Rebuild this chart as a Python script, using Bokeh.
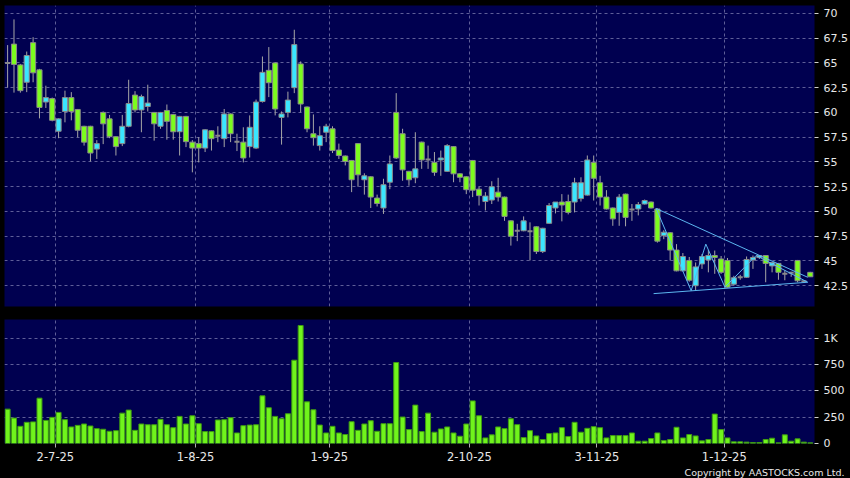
import numpy as np
import pandas as pd
from bokeh.plotting import figure
from bokeh.layouts import column
from bokeh.models import ColumnDataSource, FixedTicker, Title, Range1d, Grid
from bokeh.embed import file_html
from bokeh.resources import INLINE

# ---------------- data ----------------
holidays = ["2025-07-01", "2025-10-01", "2025-10-07", "2025-10-29"]
dates = [d for d in pd.bdate_range("2025-06-20", "2025-12-19")
         if d.strftime("%Y-%m-%d") not in holidays]

opens = [65.0, 66.9, 64.8, 63.05, 67.05, 64.3, 61.05, 61.4, 58.1, 60.1,
         61.5, 60.3, 58.6, 58.6, 56.3, 60.0, 59.35, 57.55, 56.85, 58.6,
         61.75, 60.25, 60.6, 60.0, 58.6, 60.2, 59.8, 58.05, 59.6, 57.0,
         56.85, 56.4, 58.15, 57.65, 57.35, 59.85, 57.05, 57.0, 56.55, 56.4,
         61.1, 64.25, 65.0, 59.5, 60.0, 62.5, 64.9, 60.55, 57.85, 56.65,
         58.0, 58.35, 56.2, 55.6, 55.15, 56.85, 53.2, 53.5, 51.35, 50.35,
         52.95, 60.0, 57.85, 54.05, 53.4, 57.0, 55.25, 54.95, 55.2, 54.05,
         56.55, 53.8, 53.5, 55.15, 52.25, 51.0, 51.15, 51.95, 51.45, 49.05,
         48.05, 48.05, 48.0, 48.45, 45.95, 48.8, 50.35, 50.95, 51.0, 50.95,
         51.3, 51.65, 54.95, 52.9, 51.45, 50.35, 49.9, 51.75, 50.2, 50.25,
         50.75, 50.95, 50.25, 47.55, 47.85, 46.1, 44.0, 45.05, 42.5, 44.7,
         45.1, 45.55, 45.2, 45.05, 42.65, 43.35, 43.35, 45.1, 45.35, 45.55,
         44.5, 44.75, 43.7, 43.8, 45.05, 42.95, 43.85]
highs = [66.8, 69.4, 64.9, 66.15, 67.6, 64.4, 62.7, 61.5, 59.4, 62.2,
         62.05, 60.35, 58.65, 58.65, 57.2, 60.1, 59.75, 57.6, 59.75, 63.3,
         62.15, 61.8, 62.8, 60.05, 60.05, 60.8, 59.85, 59.65, 59.65, 57.2,
         57.5, 58.3, 58.2, 58.6, 60.35, 59.9, 57.85, 58.5, 59.7, 61.3,
         65.65, 66.6, 65.05, 60.1, 62.1, 68.35, 65.15, 60.6, 59.8, 58.6,
         58.85, 58.6, 56.85, 55.65, 55.2, 56.9, 53.85, 53.55, 51.7, 53.3,
         55.65, 61.95, 58.35, 54.1, 58.0, 57.05, 56.65, 56.0, 56.15, 56.8,
         56.6, 53.85, 53.55, 55.2, 52.5, 51.95, 53.05, 53.4, 51.5, 49.1,
         48.75, 49.5, 48.9, 48.5, 48.35, 50.85, 50.95, 51.75, 51.7, 53.4,
         53.45, 55.65, 55.65, 53.6, 52.15, 50.4, 51.75, 51.8, 50.75, 50.95,
         51.2, 51.0, 50.3, 48.1, 47.9, 46.7, 45.8, 45.4, 44.85, 45.7,
         46.1, 46.05, 45.5, 45.3, 43.5, 43.6, 45.45, 45.55, 45.6, 45.6,
         44.9, 44.8, 44.05, 43.9, 45.1, 43.05, 43.9]
lows = [62.5, 62.0, 62.0, 62.05, 63.05, 59.4, 60.45, 59.1, 57.4, 59.0,
        59.2, 57.5, 56.65, 55.05, 55.3, 56.8, 57.4, 55.65, 56.6, 58.5,
        60.0, 58.0, 60.1, 57.15, 58.35, 57.25, 57.25, 55.65, 56.5, 53.95,
        54.95, 56.0, 56.15, 57.0, 56.5, 57.0, 56.1, 54.95, 55.45, 56.3,
        61.0, 61.55, 59.7, 56.75, 59.5, 61.95, 60.0, 58.0, 56.65, 56.15,
        57.0, 55.9, 55.3, 54.65, 51.95, 52.5, 51.7, 50.35, 50.5, 49.75,
        52.25, 55.3, 53.1, 52.6, 52.85, 54.3, 54.3, 53.6, 53.6, 54.0,
        52.95, 52.95, 51.75, 51.45, 50.6, 50.1, 50.75, 51.0, 49.05, 46.55,
        47.0, 48.0, 45.05, 45.7, 45.8, 48.75, 49.8, 49.0, 49.7, 49.9,
        51.0, 51.6, 51.1, 50.6, 50.2, 48.55, 48.55, 48.5, 49.05, 49.6,
        50.7, 50.3, 46.85, 47.2, 45.05, 43.95, 43.95, 42.9, 42.0, 44.2,
        43.85, 43.7, 43.7, 42.3, 42.5, 43.1, 43.3, 44.2, 45.2, 42.85,
        43.85, 43.1, 43.05, 43.4, 42.85, 42.85, 43.4]
closes = [65.0, 64.85, 62.2, 65.75, 64.0, 60.5, 61.5, 59.2, 59.35, 61.5,
          60.1, 58.2, 57.0, 55.9, 56.85, 58.85, 57.55, 56.55, 58.6, 60.9,
          60.25, 61.6, 60.95, 58.85, 60.0, 59.1, 58.05, 59.6, 57.05, 56.4,
          56.4, 58.25, 57.35, 57.65, 59.85, 57.85, 57.05, 55.4, 58.5, 61.05,
          64.05, 63.0, 60.35, 59.85, 61.25, 66.85, 60.85, 58.35, 57.45, 57.65,
          58.6, 56.15, 55.65, 55.05, 53.2, 53.7, 53.6, 51.45, 50.8, 52.7,
          54.8, 55.4, 54.2, 53.2, 54.3, 55.2, 55.25, 53.95, 55.4, 56.65,
          53.8, 53.45, 52.2, 52.15, 51.6, 51.55, 52.5, 51.45, 49.5, 47.5,
          48.05, 49.05, 48.0, 45.95, 48.3, 50.6, 50.95, 50.65, 49.9, 52.9,
          52.9, 55.2, 53.35, 51.45, 50.25, 49.25, 51.45, 49.4, 50.2, 50.7,
          51.1, 50.35, 47.0, 47.9, 46.1, 44.0, 45.45, 43.05, 44.4, 45.45,
          45.55, 45.35, 43.85, 42.35, 43.3, 43.35, 45.15, 45.35, 45.55, 44.75,
          44.85, 43.85, 43.7, 43.8, 43.0, 42.95, 43.4]
volumes = [326, 241, 163, 201, 205, 430, 219, 248, 295, 226,
           157, 172, 185, 166, 141, 135, 116, 122, 288, 317,
           125, 185, 178, 178, 229, 178, 150, 257, 185, 263,
           188, 113, 113, 223, 226, 245, 100, 169, 175, 178,
           452, 339, 257, 235, 282, 790, 1119, 395, 320, 175,
           100, 163, 100, 85, 207, 125, 185, 216, 116, 188,
           188, 768, 251, 132, 364, 113, 288, 107, 138, 157,
           100, 69, 185, 404, 263, 53, 82, 157, 141, 235,
           179, 56, 122, 72, 38, 94, 100, 150, 66, 201,
           107, 144, 160, 150, 53, 75, 75, 75, 100, 22,
           22, 47, 100, 28, 38, 154, 53, 85, 72, 25,
           38, 279, 132, 53, 16, 16, 13, 9, 9, 38,
           50, 6, 82, 22, 44, 13, 6]

tick_dates = ["2025-07-02", "2025-08-01", "2025-09-01", "2025-10-02", "2025-11-03", "2025-12-01"]
tick_labels = ["2-7-25", "1-8-25", "1-9-25", "2-10-25", "3-11-25", "1-12-25"]
price_ticks = [42.5, 45, 47.5, 50, 52.5, 55, 57.5, 60, 62.5, 65, 67.5, 70]
price_tick_labels = ["42.5", "45", "47.5", "50", "52.5", "55", "57.5", "60", "62.5", "65", "67.5", "70"]
vol_ticks = [0, 250, 500, 750, 1000]
vol_tick_labels = ["0", "250", "500", "750", "1K"]

# triangle pattern drawn on the chart (bar index, price)
upper_line_x = [101.8, 125.6]
upper_line_y = [50.3, 43.35]
lower_line_x = [101.4, 125.6]
lower_line_y = [41.7, 42.85]
zigzag_x = [101.8, 107.3, 109.6, 112.6, 117.5, 125.6]
zigzag_y = [50.3, 42.0, 46.7, 42.35, 45.55, 42.85]

# ---------------- styles ----------------
NAVY = "#000050"
GRID = "#5e5e98"
UP = "#3ae6ff"
DOWN = "#7cfc1e"
BODY_LINE = "#8a8a8a"
WICK = "#a6a6a6"
VOL_FILL = "#70f41c"
VOL_LINE = "#3e9a12"
TREND = "#5cb6f0"
TEXT = "#e8e8e8"
FONT = "DejaVu Sans"

n = len(dates)
xs = np.arange(n)
date_pos = {d.strftime("%Y-%m-%d"): i for i, d in enumerate(dates)}
xtick_pos = [date_pos[d] + 0.5 for d in tick_dates]

o = np.array(opens); c = np.array(closes)
body_mask = o != c
doji_mask = o == c
half = 0.4

body_src = ColumnDataSource(dict(
    x=xs[body_mask], top=np.maximum(o, c)[body_mask], bottom=np.minimum(o, c)[body_mask],
    color=[UP if cc > oo else DOWN for oo, cc in zip(o[body_mask], c[body_mask])]))
doji_src = ColumnDataSource(dict(
    x0=xs[doji_mask] - half, x1=xs[doji_mask] + half, y=o[doji_mask]))
wick_src = ColumnDataSource(dict(x=xs, high=highs, low=lows))
vol_src = ColumnDataSource(dict(x=xs, vol=volumes))

x_range = Range1d(-0.49, n - 0.34)


def style_yaxis(p, ticks, labels):
    ax = p.yaxis[0]
    ax.ticker = FixedTicker(ticks=ticks)
    ax.major_label_overrides = {t: l for t, l in zip(ticks, labels)}
    ax.axis_line_color = None
    ax.major_tick_line_color = "#d0d0d0"
    ax.major_tick_out = 4
    ax.major_tick_in = 0
    ax.minor_tick_line_color = None
    ax.major_label_standoff = 5
    ax.major_label_text_color = TEXT
    ax.major_label_text_font = FONT
    ax.major_label_text_font_size = "11px"


def add_grids(p, yticks):
    for g in p.grid:
        g.visible = False
    p.add_layout(Grid(dimension=0, ticker=FixedTicker(ticks=xtick_pos),
                      grid_line_color=GRID, grid_line_dash="3 3", grid_line_width=1))
    p.add_layout(Grid(dimension=1, ticker=FixedTicker(ticks=yticks),
                      grid_line_color=GRID, grid_line_dash="3 3", grid_line_width=1))


# ---------------- price panel ----------------
p1 = figure(width=850, height=312, x_range=x_range, y_range=Range1d(40.4, 70.8),
            x_axis_location=None, y_axis_location="right",
            output_backend="svg", toolbar_location=None,
            min_border_left=4, min_border_right=35, min_border_top=5, min_border_bottom=6,
            background_fill_color=NAVY, border_fill_color="black", outline_line_color=None)
style_yaxis(p1, price_ticks, price_tick_labels)
add_grids(p1, price_ticks)

p1.segment(x0="x", y0="high", x1="x", y1="low", source=wick_src, line_color=WICK, line_width=1)
p1.vbar(x="x", top="top", bottom="bottom", width=0.8, source=body_src,
        fill_color="color", line_color=BODY_LINE, line_width=1)
p1.segment(x0="x0", y0="y", x1="x1", y1="y", source=doji_src, line_color=BODY_LINE, line_width=2)

p1.line(upper_line_x, upper_line_y, line_color=TREND, line_width=1)
p1.line(lower_line_x, lower_line_y, line_color=TREND, line_width=1)
p1.line(zigzag_x, zigzag_y, line_color=TREND, line_width=1)

# ---------------- volume panel ----------------
p2 = figure(width=850, height=166, x_range=x_range, y_range=Range1d(0, 1176),
            y_axis_location="right",
            output_backend="svg", toolbar_location=None,
            min_border_left=4, min_border_right=35, min_border_top=7, min_border_bottom=0,
            background_fill_color=NAVY, border_fill_color="black", outline_line_color=None)
style_yaxis(p2, vol_ticks, vol_tick_labels)
add_grids(p2, vol_ticks[1:])

xa = p2.xaxis[0]
xa.ticker = FixedTicker(ticks=xtick_pos)
xa.major_label_overrides = {t: l for t, l in zip(xtick_pos, tick_labels)}
xa.axis_line_color = None
xa.major_tick_line_color = "#b0b0b0"
xa.major_tick_out = 4
xa.major_tick_in = 0
xa.minor_tick_line_color = None
xa.major_label_standoff = 4
xa.major_label_text_color = TEXT
xa.major_label_text_font = FONT
xa.major_label_text_font_size = "11.5px"

p2.vbar(x="x", top="vol", bottom=0, width=0.78, source=vol_src,
        fill_color=VOL_FILL, line_color=VOL_LINE, line_width=1)

p2.add_layout(Title(text="Copyright by AASTOCKS.com Ltd.", align="right", offset=-30,
                    standoff=2, text_font=FONT, text_font_size="9.5px",
                    text_font_style="normal", text_color=TEXT), "below")

layout = column(p1, p2)

html = file_html(layout, INLINE)
html = html.replace("</head>", "<style>html,body{background:#000000;}</style></head>")
open("out.html", "w").write(html)
